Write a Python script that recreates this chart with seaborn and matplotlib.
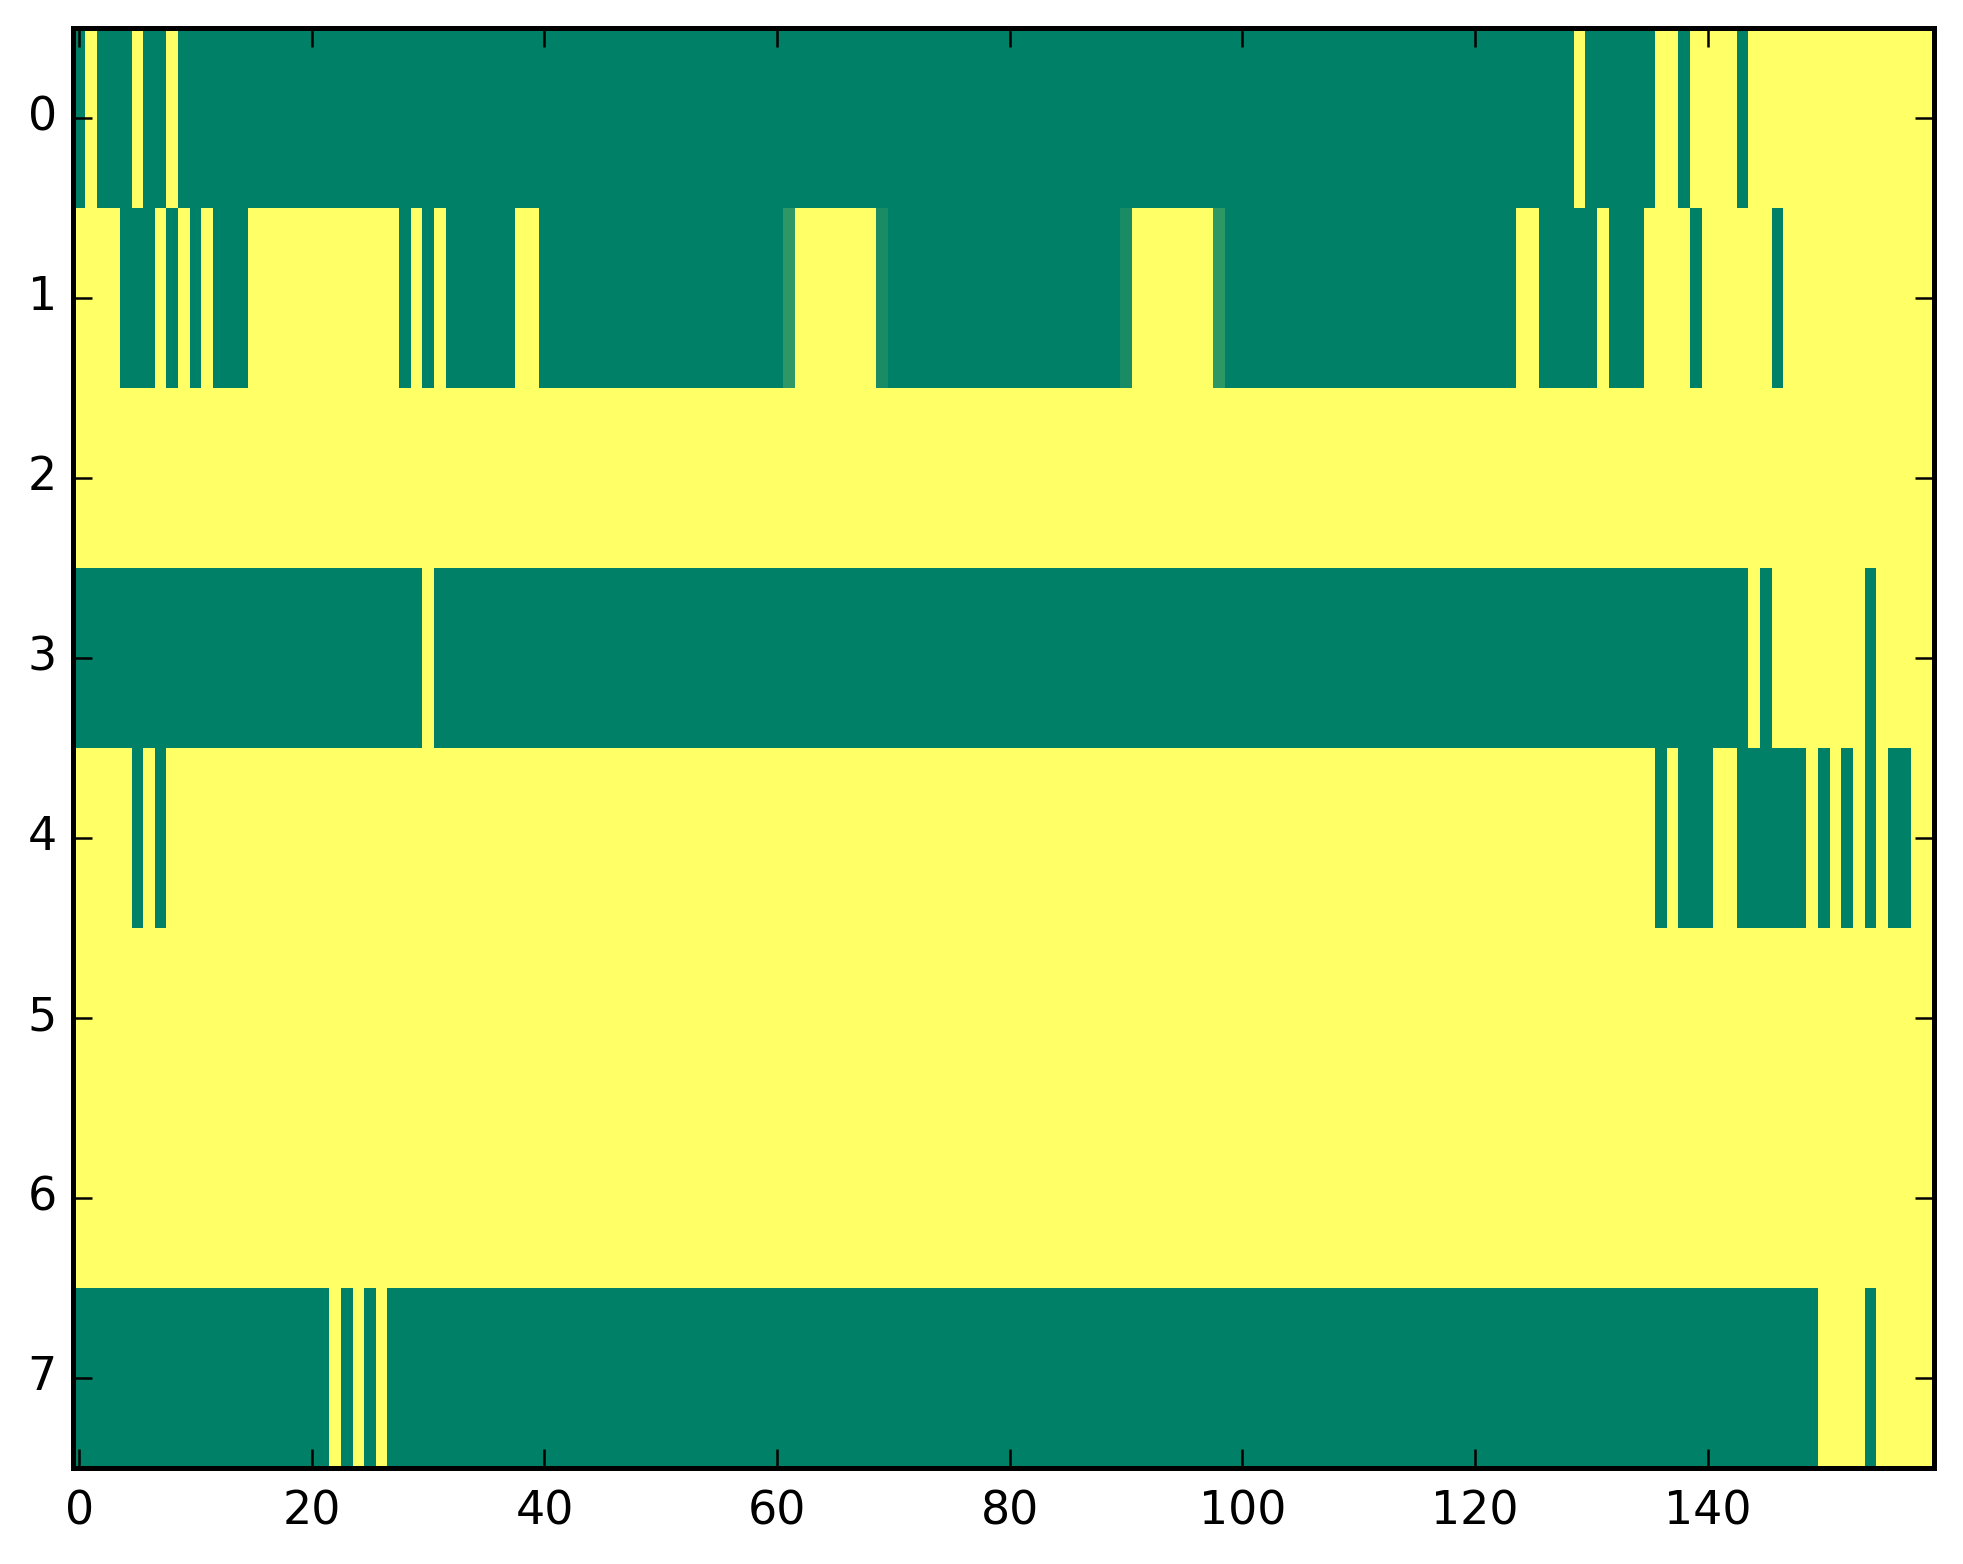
import numpy as np
import pandas as pd
import seaborn as sns
import matplotlib
matplotlib.use('Agg')
import matplotlib.pyplot as plt

# Cell states, 0 = green, 1 = yellow (groups of 10 columns)
row0 = "0100010010 0000000000 0000000000 0000000000 0000000000 0000000000 0000000000 0000000000 0000000000 0000000000 0000000000 0000000000 0000000001 0000001101 1110111111 1111111111"
row1 = "1111000101 0100011111 1111111101 0100000011 0000000000 0000000000 0011111110 0000000000 0000000000 0111111100 0000000000 0000000000 0000110000 0100011110 1111110111 1111111111"
row2 = "1111111111 1111111111 1111111111 1111111111 1111111111 1111111111 1111111111 1111111111 1111111111 1111111111 1111111111 1111111111 1111111111 1111111111 1111111111 1111111111"
row3 = "0000000000 0000000000 0000000000 1000000000 0000000000 0000000000 0000000000 0000000000 0000000000 0000000000 0000000000 0000000000 0000000000 0000000000 0000101111 1111011111"
row4 = "1111101011 1111111111 1111111111 1111111111 1111111111 1111111111 1111111111 1111111111 1111111111 1111111111 1111111111 1111111111 1111111111 1111110100 0110000001 0101010011"
row5 = "1111111111 1111111111 1111111111 1111111111 1111111111 1111111111 1111111111 1111111111 1111111111 1111111111 1111111111 1111111111 1111111111 1111111111 1111111111 1111111111"
row6 = "1111111111 1111111111 1111111111 1111111111 1111111111 1111111111 1111111111 1111111111 1111111111 1111111111 1111111111 1111111111 1111111111 1111111111 1111111111 1111111111"
row7 = "0000000000 0000000000 0010101000 0000000000 0000000000 0000000000 0000000000 0000000000 0000000000 0000000000 0000000000 0000000000 0000000000 0000000000 0000000000 1111011111"

# A few cells in row 1 sit between the two colours
partial_cols = [61, 69, 90, 98]
partial_vals = [0.18, 0.10, 0.10, 0.18]

x_ticks = [0, 20, 40, 60, 80, 100, 120, 140]
y_ticks = [0, 1, 2, 3, 4, 5, 6, 7]

rows = [row0, row1, row2, row3, row4, row5, row6, row7]
grid = np.array([[float(ch) for ch in r.replace(" ", "")] for r in rows])
for c, v in zip(partial_cols, partial_vals):
    grid[1, c] = v
df = pd.DataFrame(grid)

fig = plt.figure(figsize=(9.815, 7.82), dpi=200)
ax = fig.add_axes([0.0374, 0.0617, 0.9480, 0.9207])
sns.heatmap(df, cmap='summer', vmin=0, vmax=1, cbar=False, ax=ax)

# back to a plain framed image look
for s in ax.spines.values():
    s.set_visible(True)
    s.set_linewidth(1.8)
    s.set_color('black')
ax.set_xticks(np.array(x_ticks) + 0.5)
ax.set_xticklabels([str(t) for t in x_ticks], rotation=0)
ax.set_yticks(np.array(y_ticks) + 0.5)
ax.set_yticklabels([str(t) for t in y_ticks], rotation=0)
ax.set_xlabel('')
ax.set_ylabel('')
ax.tick_params(direction='in', top=True, right=True, bottom=True, left=True,
               length=7, width=0.9, labelsize=16.5)
ax.tick_params(axis='x', pad=8)
ax.tick_params(axis='y', pad=6)

fig.savefig('out.png', dpi=200)
